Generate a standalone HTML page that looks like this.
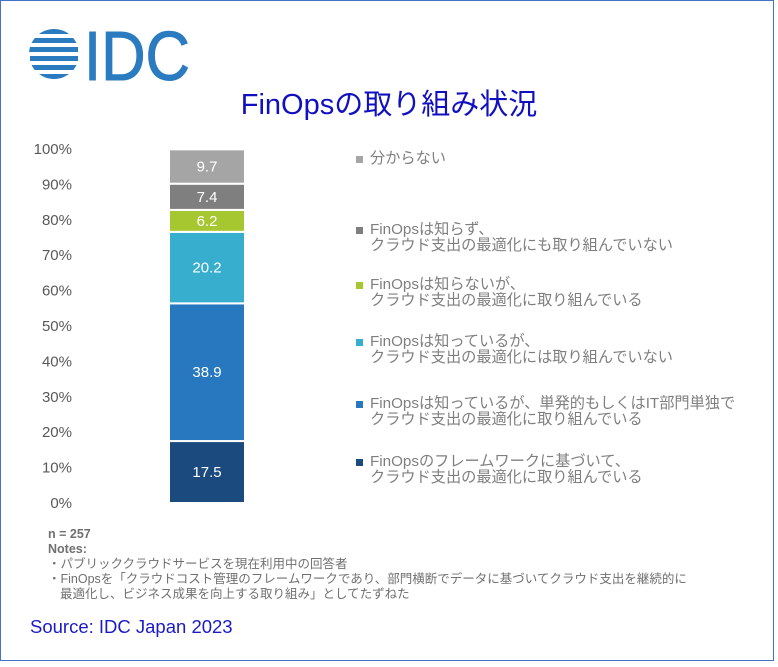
<!DOCTYPE html>
<html><head><meta charset="utf-8"><style>
body{margin:0;width:778px;height:662px;overflow:hidden;background:#fff;font-family:"Liberation Sans","Noto Sans CJK JP",sans-serif}
</style></head><body>
<svg width="778" height="662">
<rect x="0.5" y="0.5" width="773" height="660" fill="#fff" stroke="#4472c4" stroke-width="1"/>
<g fill="#2b7bc0">
<clipPath id="lc"><circle cx="54" cy="54" r="25"/></clipPath>
<g clip-path="url(#lc)">
<rect x="28" y="29" width="50" height="5"/><rect x="30" y="38" width="48" height="5"/><rect x="28" y="47" width="50" height="5"/><rect x="30" y="56" width="48" height="5"/><rect x="28" y="65" width="50" height="5"/><rect x="30" y="74" width="48" height="5"/>
</g>
<text x="84" y="80" font-size="70" fill="#2b7bc0" stroke="#2b7bc0" stroke-width="1" textLength="106" lengthAdjust="spacingAndGlyphs">IDC</text>
</g>
<text x="389" y="114" text-anchor="middle" font-size="29" fill="#1010c0">FinOpsの取り組み状況</text>
<g id="axis"></g>
<g id="bars"></g>
<g id="legend"></g>
<g font-size="12.5" fill="#707070">
<text x="48" y="538" font-weight="bold">n = 257</text>
<text x="48" y="553" font-weight="bold">Notes:</text>
<text x="48" y="568">・パブリッククラウドサービスを現在利用中の回答者</text>
<text x="48" y="583">・FinOpsを「クラウドコスト管理のフレームワークであり、部門横断でデータに基づいてクラウド支出を継続的に</text>
<text x="60" y="598">最適化し、ビジネス成果を向上する取り組み」としてたずねた</text>
</g>
<text x="30" y="633" font-size="18.5" fill="#1a1ac8">Source: IDC Japan 2023</text>
</svg>
<script>
const categories=["FinOpsのフレームワークに基づいて、|クラウド支出の最適化に取り組んでいる","FinOpsは知っているが、単発的もしくはIT部門単独で|クラウド支出の最適化に取り組んでいる","FinOpsは知っているが、|クラウド支出の最適化には取り組んでいない","FinOpsは知らないが、|クラウド支出の最適化に取り組んでいる","FinOpsは知らず、|クラウド支出の最適化にも取り組んでいない","分からない"];
const values=[17.5,38.9,20.2,6.2,7.4,9.7];
const colors=["#1b4a7e","#2878c0","#37aece","#a7c731","#7f7f7f","#a5a5a5"];
const ticks=[0,10,20,30,40,50,60,70,80,90,100];
const legendY=[466,408,346,289,234,163];
const NS="http://www.w3.org/2000/svg";
const y=v=>503-v*3.54;
function mk(t,a,p){const e=document.createElementNS(NS,t);for(const k in a)e.setAttribute(k,a[k]);p.appendChild(e);return e;}
const ax=document.getElementById('axis');
ticks.forEach(t=>{const e=mk('text',{x:72,y:y(t)+5,'text-anchor':'end','font-size':15,fill:'#595959'},ax);e.textContent=t+'%';

});
const bg=document.getElementById('bars');let c=0;
values.forEach((v,i)=>{const r=mk('rect',{x:169,y:y(c+v),width:76,height:v*3.54,fill:colors[i],stroke:'#fff','stroke-width':2},bg);


const t=mk('text',{x:207,y:y(c+v/2)+5,'text-anchor':'middle','font-size':15,fill:'#fff'},bg);t.textContent=v.toFixed(1);


c+=v;});
const lg=document.getElementById('legend');
categories.forEach((cat,i)=>{const g=mk('g',{},lg);


const lines=cat.split('|');const y0=legendY[i];
mk('rect',{x:356,y:y0-7,width:7,height:7,fill:colors[i]},g);
lines.forEach((l,j)=>{const t=mk('text',{x:370,y:y0+j*16,'font-size':15.2,fill:'#7f7f7f'},g);t.textContent=l;});});
</script>
</body></html>
